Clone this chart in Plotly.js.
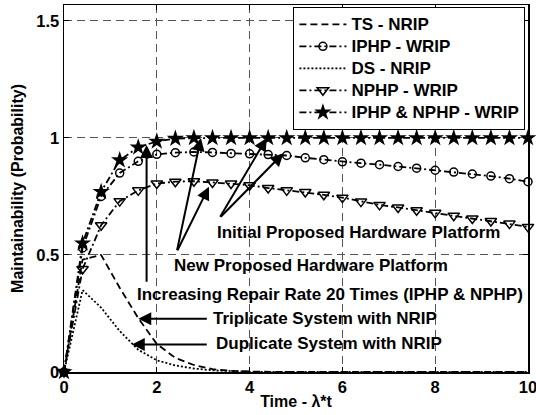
<!DOCTYPE html>
<html>
<head>
<meta charset="utf-8">
<script src="https://cdn.plot.ly/plotly-3.0.1.min.js"></script>
<style>html,body{margin:0;padding:0;background:#fff}#chart{width:536px;height:415px}</style>
</head>
<body>
<div id="chart"></div>
<script>
// ---- data ----
var time = [0,0.4,0.8,1.2,1.6,2.0,2.4,2.8,3.2,3.6,4.0,4.4,4.8,5.2,5.6,6.0,6.4,6.8,7.2,7.6,8.0,8.4,8.8,9.2,9.6,10];
var tsNrip   = [0,0.48,0.50,0.36,0.23,0.12,0.06,0.03,0.012,0.005,0.002,0,0,0,0,0,0,0,0,0,0,0,0,0,0,0];
var iphpWrip = [0,0.53,0.75,0.85,0.90,0.93,0.937,0.94,0.938,0.934,0.932,0.929,0.925,0.915,0.907,0.898,0.892,0.886,0.878,0.871,0.862,0.854,0.846,0.837,0.826,0.813];
var dsNrip   = [0,0.35,0.275,0.175,0.095,0.05,0.028,0.015,0.007,0.003,0.001,0,0,0,0,0,0,0,0,0,0,0,0,0,0,0];
var nphpWrip = [0,0.44,0.627,0.73,0.776,0.805,0.813,0.815,0.81,0.805,0.798,0.786,0.776,0.769,0.757,0.745,0.728,0.714,0.703,0.691,0.68,0.668,0.656,0.645,0.634,0.62];
var bothWrip = [0,0.55,0.77,0.905,0.96,0.985,0.997,1,1,1,1,1,1,1,1,1,1,1,1,1,1,1,1,1,1,1];
var seriesNames = ['TS - NRIP','IPHP - WRIP','DS - NRIP','NPHP - WRIP','IPHP &amp; NPHP - WRIP'];

var xTicks = [0,2,4,6,8,10];
var xTickText = ['0','2','4','6','8','10'];
var yTicks = [0,0.5,1,1.5];
var yTickText = ['0','0.5','1','1.5'];

// annotation texts and anchor points (data units)
var noteTexts = ['Initial Proposed Hardware Platform','New Proposed Hardware Platform',
  'Increasing Repair Rate 20 Times (IPHP &amp; NPHP)','Triplicate System with NRIP','Duplicate System with NRIP'];
var noteX = [3.25,2.33,1.53,3.17,3.24];
var noteY = [0.594,0.457,0.332,0.229,0.12];
// arrows: head and tail points (data units)
var arrowHeadX = [1.78,2.95,3.125,4.37,4.73,1.60,1.46];
var arrowHeadY = [0.97,1.0,0.792,1.0,0.935,0.228,0.1175];
var arrowTailX = [1.78,2.43,2.43,3.347,3.347,3.11,3.11];
var arrowTailY = [0.379,0.514,0.514,0.657,0.657,0.228,0.1175];

var FONT = 'Liberation Sans, Arial, Helvetica, sans-serif';
var LW = 1.8;
function legendLabel(s) { return '<span style="font-size:17px">' + s + '</span>'; }

var traces = [
  {x: time, y: tsNrip, name: legendLabel(seriesNames[0]), mode: 'lines',
   line: {color: '#000', width: LW, dash: '7px,4px'}},
  {x: time, y: iphpWrip, name: legendLabel(seriesNames[1]), mode: 'lines+markers',
   line: {color: '#000', width: LW, dash: '7px,3px,2px,3px'},
   marker: {symbol: 'circle-open', size: 8, color: '#000', line: {width: 1.5, color: '#000'}}},
  {x: time, y: dsNrip, name: legendLabel(seriesNames[2]), mode: 'lines',
   line: {color: '#000', width: LW, dash: '2px,2px'}},
  {x: time, y: nphpWrip, name: legendLabel(seriesNames[3]), mode: 'lines+markers',
   line: {color: '#000', width: LW, dash: '7px,3px,2px,3px'},
   marker: {symbol: 'triangle-down-open', size: 10, color: '#000', line: {width: 1.5, color: '#000'}}},
  {x: time, y: bothWrip, name: legendLabel(seriesNames[4]), mode: 'lines+markers',
   line: {color: '#000', width: LW, dash: '7px,3px,2px,3px'},
   marker: {symbol: 'star', size: 13, color: '#000', line: {width: 0}}}
];
traces.forEach(function(t){ t.cliponaxis = false; });

var annotations = [];
for (var i = 0; i < noteTexts.length; i++) {
  annotations.push({x: noteX[i], y: noteY[i], xref: 'x', yref: 'y', text: noteTexts[i],
    showarrow: false, xanchor: 'left', yanchor: 'middle',
    font: {family: FONT, size: 17, weight: 'bold', color: '#000'}});
}
for (var j = 0; j < arrowHeadX.length; j++) {
  annotations.push({x: arrowHeadX[j], y: arrowHeadY[j], xref: 'x', yref: 'y',
    ax: arrowTailX[j], ay: arrowTailY[j], axref: 'x', ayref: 'y', text: '',
    showarrow: true, arrowhead: 2, arrowsize: 1.3, arrowwidth: 2, arrowcolor: '#000'});
}

var layout = {
  width: 536, height: 415,
  margin: {l: 64, r: 8, t: 5, b: 43, pad: 0},
  paper_bgcolor: '#fff', plot_bgcolor: '#fff',
  font: {family: FONT, size: 17, weight: 'bold', color: '#000'},
  showlegend: true,
  legend: {x: 0.494, y: 0.994, xanchor: 'left', yanchor: 'top',
    bgcolor: '#fff', bordercolor: '#000', borderwidth: 1.2,
    font: {family: FONT, size: 14.6, weight: 'bold', color: '#000'},
    itemwidth: 47, tracegroupgap: 0},
  xaxis: {range: [0, 10], tickvals: xTicks, ticktext: xTickText,
    showline: true, linecolor: '#000', linewidth: 1.5, mirror: 'ticks',
    ticks: 'inside', ticklen: 5, tickwidth: 1, tickcolor: '#000',
    showgrid: true, gridcolor: '#555', gridwidth: 1, griddash: '8px,5px',
    zeroline: false, tickfont: {size: 16.5}, ticklabeloverflow: 'allow',
    title: {text: 'Time - λ*t', font: {size: 16}, standoff: 0}},
  yaxis: {range: [0, 1.568], tickvals: yTicks, ticktext: yTickText,
    showline: true, linecolor: '#000', linewidth: 1.5, mirror: 'ticks',
    ticks: 'inside', ticklen: 5, tickwidth: 1, tickcolor: '#000',
    showgrid: true, gridcolor: '#555', gridwidth: 1, griddash: '8px,5px',
    zeroline: false, tickfont: {size: 16.5},
    title: {text: 'Maintainability (Probability)', font: {size: 16}, standoff: 8}},
  annotations: annotations
};

Plotly.newPlot('chart', traces, layout, {displayModeBar: false, staticPlot: true});
</script>
</body>
</html>
